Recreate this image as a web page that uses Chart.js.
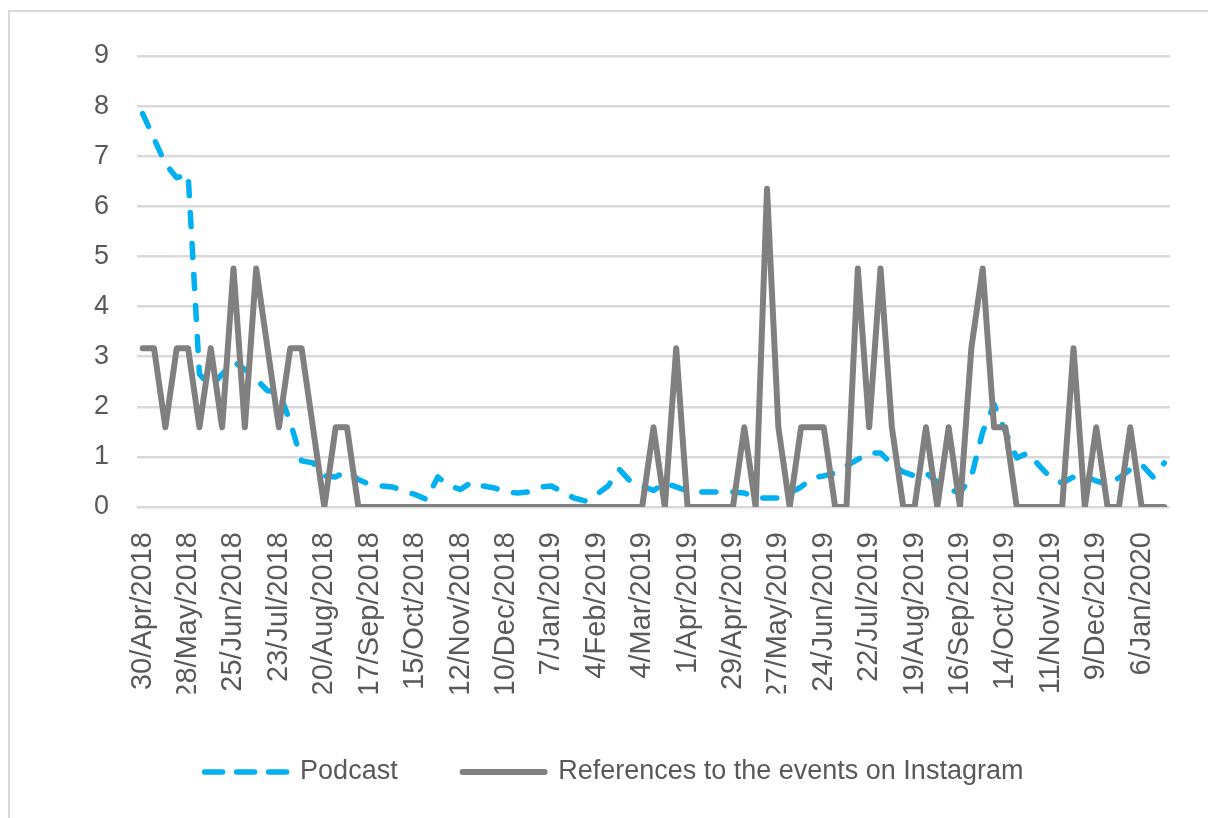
<!DOCTYPE html>
<html>
<head>
<meta charset="utf-8">
<script src="https://cdn.jsdelivr.net/npm/chart.js@4.4.1/dist/chart.umd.min.js"></script>
<style>
html, body { margin: 0; padding: 0; background: #ffffff; width: 1208px; height: 818px; overflow: hidden; }
#frame { position: absolute; left: 8px; top: 10px; width: 1300px; height: 900px; border-top: 2px solid #d9d9d9; border-left: 2px solid #d9d9d9; }
#wrap { position: absolute; left: 0; top: 0; width: 1208px; height: 818px; }
</style>
</head>
<body>
<div id="frame"></div>
<div id="wrap"><canvas id="c" width="1208" height="818"></canvas></div>
<script>
// Weekly categories (Monday of each week)
const categories = [
  "30/Apr/2018","7/May/2018","14/May/2018","21/May/2018","28/May/2018","4/Jun/2018","11/Jun/2018","18/Jun/2018",
  "25/Jun/2018","2/Jul/2018","9/Jul/2018","16/Jul/2018","23/Jul/2018","30/Jul/2018","6/Aug/2018","13/Aug/2018",
  "20/Aug/2018","27/Aug/2018","3/Sep/2018","10/Sep/2018","17/Sep/2018","24/Sep/2018","1/Oct/2018","8/Oct/2018",
  "15/Oct/2018","22/Oct/2018","29/Oct/2018","5/Nov/2018","12/Nov/2018","19/Nov/2018","26/Nov/2018","3/Dec/2018",
  "10/Dec/2018","17/Dec/2018","24/Dec/2018","31/Dec/2018","7/Jan/2019","14/Jan/2019","21/Jan/2019","28/Jan/2019",
  "4/Feb/2019","11/Feb/2019","18/Feb/2019","25/Feb/2019","4/Mar/2019","11/Mar/2019","18/Mar/2019","25/Mar/2019",
  "1/Apr/2019","8/Apr/2019","15/Apr/2019","22/Apr/2019","29/Apr/2019","6/May/2019","13/May/2019","20/May/2019",
  "27/May/2019","3/Jun/2019","10/Jun/2019","17/Jun/2019","24/Jun/2019","1/Jul/2019","8/Jul/2019","15/Jul/2019",
  "22/Jul/2019","29/Jul/2019","5/Aug/2019","12/Aug/2019","19/Aug/2019","26/Aug/2019","2/Sep/2019","9/Sep/2019",
  "16/Sep/2019","23/Sep/2019","30/Sep/2019","7/Oct/2019","14/Oct/2019","21/Oct/2019","28/Oct/2019","4/Nov/2019",
  "11/Nov/2019","18/Nov/2019","25/Nov/2019","2/Dec/2019","9/Dec/2019","16/Dec/2019","23/Dec/2019","30/Dec/2019",
  "6/Jan/2020","13/Jan/2020","20/Jan/2020"
];

// Labels shown on the horizontal axis
const tickLabels = [
  "30/Apr/2018","28/May/2018","25/Jun/2018","23/Jul/2018","20/Aug/2018","17/Sep/2018","15/Oct/2018","12/Nov/2018",
  "10/Dec/2018","7/Jan/2019","4/Feb/2019","4/Mar/2019","1/Apr/2019","29/Apr/2019","27/May/2019","24/Jun/2019",
  "22/Jul/2019","19/Aug/2019","16/Sep/2019","14/Oct/2019","11/Nov/2019","9/Dec/2019","6/Jan/2020"
];

const yTicks = [0, 1, 2, 3, 4, 5, 6, 7, 8, 9];

const podcast = [
  7.85, 7.35, 6.85, 6.57, 6.65, 2.65, 2.40, 2.65, 2.90, 2.75,
  2.55, 2.32, 2.30, 1.70, 0.92, 0.88, 0.62, 0.60, 0.72, 0.55,
  0.45, 0.42, 0.40, 0.32, 0.25, 0.15, 0.60, 0.42, 0.35, 0.50,
  0.42, 0.38, 0.30, 0.28, 0.30, 0.40, 0.42, 0.30, 0.18, 0.12,
  0.25, 0.42, 0.75, 0.50, 0.42, 0.33, 0.48, 0.40, 0.32, 0.30,
  0.30, 0.30, 0.30, 0.28, 0.18, 0.18, 0.18, 0.28, 0.40, 0.58,
  0.62, 0.68, 0.82, 0.95, 1.08, 1.08, 0.85, 0.70, 0.62, 0.68,
  0.50, 0.35, 0.28, 0.60, 1.50, 2.05, 1.50, 0.98, 1.08, 0.82,
  0.58, 0.48, 0.60, 0.62, 0.52, 0.45, 0.58, 0.75, 0.85, 0.60,
  0.88
];

const instagram = [
  3.17, 3.17, 1.59, 3.17, 3.17, 1.59, 3.17, 1.59, 4.76, 1.59,
  4.76, 3.17, 1.59, 3.17, 3.17, 1.59, 0, 1.59, 1.59, 0,
  0, 0, 0, 0, 0, 0, 0, 0, 0, 0,
  0, 0, 0, 0, 0, 0, 0, 0, 0, 0,
  0, 0, 0, 0, 0, 1.59, 0, 3.17, 0, 0,
  0, 0, 0, 1.59, 0, 6.35, 1.59, 0, 1.59, 1.59,
  1.59, 0, 0, 4.76, 1.59, 4.76, 1.59, 0, 0, 1.59,
  0, 1.59, 0, 3.17, 4.76, 1.59, 1.59, 0, 0, 0,
  0, 0, 3.17, 0, 1.59, 0, 0, 1.59, 0, 0,
  0
];

const seriesNames = ["Podcast", "References to the events on Instagram"];

const FONT = "'Liberation Sans', Arial, sans-serif";
const TEXT = "#595959";

new Chart(document.getElementById('c'), {
  type: 'line',
  data: {
    labels: categories,
    datasets: [
      {
        label: seriesNames[0],
        data: podcast,
        borderColor: '#00B0F0',
        backgroundColor: '#00B0F0',
        borderWidth: 5.5,
        borderDash: [14, 17],
        borderCapStyle: 'round',
        borderJoinStyle: 'round',
        pointRadius: 0,
        tension: 0,
        fill: false,
        order: 1
      },
      {
        label: seriesNames[1],
        data: instagram,
        borderColor: '#808080',
        backgroundColor: '#808080',
        borderWidth: 6,
        borderCapStyle: 'round',
        borderJoinStyle: 'round',
        pointRadius: 0,
        tension: 0,
        fill: false,
        order: 0
      }
    ]
  },
  options: {
    responsive: false,
    animation: false,
    devicePixelRatio: 1,
    layout: { padding: { left: 58, right: 38, top: 56, bottom: 22.5 } },
    plugins: {
      tooltip: { enabled: false },
      legend: {
        position: 'bottom',
        align: 'center',
        labels: {
          usePointStyle: true,
          pointStyle: 'line',
          pointStyleWidth: 82,
          padding: 65,
          color: TEXT,
          font: { family: FONT, size: 27 },
          generateLabels: function(chart) {
            const items = Chart.defaults.plugins.legend.labels.generateLabels(chart);
            items.forEach(function(it) {
              it.lineCap = 'round';
              if (it.datasetIndex === 0) { it.lineDash = [18, 14]; }
            });
            return items.sort(function(a, b) { return a.datasetIndex - b.datasetIndex; });
          }
        }
      }
    },
    scales: {
      x: {
        type: 'category',
        offset: true,
        grid: { display: false, drawTicks: false },
        border: { display: false },
        afterFit: function(s) { s.height = 186.5; s.paddingLeft = 0; s.paddingRight = 0; },
        ticks: {
          autoSkip: false,
          minRotation: 90,
          maxRotation: 90,
          padding: 25,
          color: TEXT,
          font: { family: FONT, size: 29 },
          callback: function(value, index) {
            const lab = categories[index];
            return tickLabels.indexOf(lab) >= 0 ? lab : '';
          }
        }
      },
      y: {
        min: yTicks[0],
        max: yTicks[yTicks.length - 1],
        afterFit: function(s) { s.width = 79; },
        grid: { color: '#D9D9D9', lineWidth: 2.5, drawTicks: false },
        border: { display: false },
        ticks: {
          stepSize: 1,
          padding: 28,
          color: TEXT,
          font: { family: FONT, size: 27 }
        }
      }
    }
  }
});
</script>
</body>
</html>
